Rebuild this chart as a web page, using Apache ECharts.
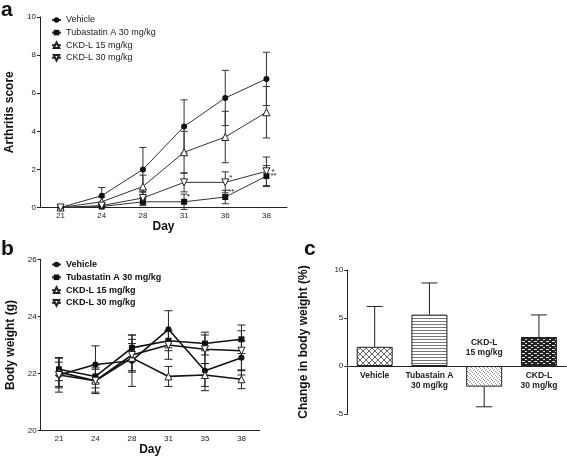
<!DOCTYPE html>
<html>
<head>
<meta charset="utf-8">
<script src="https://cdn.jsdelivr.net/npm/echarts@6/dist/echarts.min.js"></script>
<style>
html,body{margin:0;padding:0;background:#fff;}
#chart{width:567px;height:461px;}
</style>
</head>
<body>
<div id="chart"></div>
<script>
// ---------- DATA ----------
const seriesNames = ['Vehicle', 'Tubastatin A 30 mg/kg', 'CKD-L 15 mg/kg', 'CKD-L 30 mg/kg'];

// Panel a: arthritis score
const daysA = ['21', '24', '28', '31', '36', '38'];
const vehA = [0, 0.62, 2.0, 4.25, 5.75, 6.75];
const vehAsd = [0, 0.43, 1.15, 1.4, 1.45, 1.4];
const tubA = [0, 0.05, 0.3, 0.3, 0.55, 1.65];
const tubAsd = [0, 0.05, 0.2, 0.4, 0.35, 0.55];
const ckd15A = [0, 0.3, 1.1, 2.9, 3.7, 5.0];
const ckd15Asd = [0, 0.25, 0.6, 1.1, 1.35, 1.35];
const ckd30A = [0, 0.1, 0.5, 1.32, 1.32, 1.9];
const ckd30Asd = [0, 0.1, 0.3, 0.5, 0.55, 0.75];
const starsTubA = ['', '', '', '*', '**', '**'];
const starsCkd30A = ['', '', '', '', '*', '*'];
const ticksA = [0, 2, 4, 6, 8, 10];

// Panel b: body weight
const daysB = ['21', '24', '28', '31', '35', '38'];
const vehB = [21.95, 22.32, 22.45, 23.55, 22.1, 22.55];
const vehBsd = [0.6, 0.65, 0.9, 0.65, 0.7, 0.6];
const tubB = [22.15, 21.9, 22.9, 23.15, 23.05, 23.2];
const tubBsd = [0.4, 0.4, 0.45, 0.35, 0.4, 0.5];
const ckd15B = [22.05, 21.75, 22.55, 21.9, 21.95, 21.8];
const ckd15Bsd = [0.5, 0.4, 0.5, 0.35, 0.4, 0.33];
const ckd30B = [21.95, 21.75, 22.65, 23.0, 22.85, 22.8];
const ckd30Bsd = [0.45, 0.45, 0.55, 0.5, 0.5, 0.7];
const ticksB = [20, 22, 24, 26];

// Panel c: change in body weight
const groupsC = ['Vehicle', 'Tubastain A\n30 mg/kg', 'CKD-L\n15 mg/kg', 'CKD-L\n30 mg/kg'];
const changeC = [2.0, 5.35, -2.15, 3.02];
const changeCerr = [4.2, 3.3, 2.1, 2.3];
const ticksC = [-5, 0, 5, 10];

// ---------- STYLE HELPERS ----------
const FONT = "'Liberation Sans', Arial, sans-serif";
const INV_TRI = 'path://M0,0 L10,0 L5,9 Z';

function pattern(w, h, draw) {
  const c = document.createElement('canvas');
  c.width = w; c.height = h;
  const ctx = c.getContext('2d');
  ctx.fillStyle = '#fff';
  ctx.fillRect(0, 0, w, h);
  draw(ctx);
  return { image: c, repeat: 'repeat' };
}
const patCross = pattern(6, 6, ctx => {
  ctx.strokeStyle = '#666'; ctx.lineWidth = 1;
  ctx.beginPath();
  ctx.moveTo(0, 0); ctx.lineTo(6, 6);
  ctx.moveTo(6, 0); ctx.lineTo(0, 6);
  ctx.stroke();
});
const patHoriz = pattern(4, 3, ctx => {
  ctx.fillStyle = '#777';
  ctx.fillRect(0, 0, 4, 1);
});
const patDots = pattern(4, 4, ctx => {
  ctx.fillStyle = '#999';
  ctx.fillRect(0, 0, 1, 1);
  ctx.fillRect(2, 1, 1, 1);
  ctx.fillRect(1, 2, 1, 1);
  ctx.fillRect(3, 3, 1, 1);
});
const patDark = pattern(6, 4, ctx => {
  ctx.fillStyle = '#222';
  ctx.fillRect(0, 0, 6, 4);
  ctx.fillStyle = '#ddd';
  ctx.fillRect(0, 1, 3, 1);
  ctx.fillRect(3, 3, 2, 1);
});
const barPatterns = [patCross, patHoriz, patDots, patDark];

function errData(mean, sd) {
  return mean.map((m, i) => [i, m - sd[i], m + sd[i]]);
}
function errRender(capW, color, both) {
  return function (params, api) {
    const x = api.value(0);
    const a = api.coord([x, api.value(1)]);
    const b = api.coord([x, api.value(2)]);
    if (Math.abs(a[1] - b[1]) < 0.5) return { type: 'group', children: [] };
    const st = { stroke: color, lineWidth: 1 };
    const ch = [
      { type: 'line', shape: { x1: a[0], y1: a[1], x2: b[0], y2: b[1] }, style: st },
      { type: 'line', shape: { x1: b[0] - capW / 2, y1: b[1], x2: b[0] + capW / 2, y2: b[1] }, style: st }
    ];
    if (both) ch.push({ type: 'line', shape: { x1: a[0] - capW / 2, y1: a[1], x2: a[0] + capW / 2, y2: a[1] }, style: st });
    return { type: 'group', children: ch };
  };
}

const symA = [
  { symbol: 'circle', size: 6, item: { color: '#111' } },
  { symbol: 'rect', size: 6, item: { color: '#111' } },
  { symbol: 'triangle', size: 7, item: { color: '#fff', borderColor: '#222', borderWidth: 1 } },
  { symbol: INV_TRI, size: 7, item: { color: '#fff', borderColor: '#222', borderWidth: 1 } }
];

function lineSeries(name, data, idx, grid, lineColor, lw, stars) {
  const s = symA[idx];
  return {
    type: 'line', name: name, xAxisIndex: grid, yAxisIndex: grid,
    symbol: s.symbol, symbolSize: s.size, showAllSymbol: true,
    itemStyle: s.item,
    lineStyle: { color: lineColor, width: lw },
    z: 3,
    data: data.map((v, i) => {
      if (stars && stars[i]) {
        return {
          value: v,
          label: { show: true, formatter: stars[i], position: 'right', distance: 1,
                   offset: i < 5 ? [-1, -5] : [0, 0],
                   fontSize: 8, color: '#222', fontFamily: FONT }
        };
      }
      return v;
    })
  };
}
function errSeries(mean, sd, grid, capW, color) {
  return {
    type: 'custom', xAxisIndex: grid, yAxisIndex: grid, z: 2,
    renderItem: errRender(capW, color, true),
    data: errData(mean, sd), silent: true
  };
}

const axisLineStyle = { lineStyle: { color: '#222', width: 1 } };
const tickLabel = { fontSize: 8, color: '#222', fontFamily: FONT };
const nameStyle = { fontSize: 12, fontWeight: 'bold', fontFamily: FONT, color: '#111' };
const titleStyle = { fontSize: 21, fontWeight: 'bold', fontFamily: FONT, color: '#111' };

const option = {
  animation: false,
  backgroundColor: '#fff',
  title: [
    { text: 'a', left: 1, top: 0, padding: 0, textStyle: titleStyle },
    { text: 'b', left: 1, top: 239, padding: 0, textStyle: titleStyle },
    { text: 'c', left: 304, top: 239, padding: 0, textStyle: titleStyle }
  ],
  legend: [
    { orient: 'vertical', left: 51, top: 14, padding: 0, itemWidth: 9, itemHeight: 7, itemGap: 0.6,
      data: seriesNames,
      textStyle: { fontSize: 9, lineHeight: 12, color: '#222', fontFamily: FONT, padding: [0, 0, 0, 0] } },
    { orient: 'vertical', left: 51, top: 258.5, padding: 0, itemWidth: 9, itemHeight: 7, itemGap: 0.8,
      data: seriesNames,
      textStyle: { fontSize: 9, lineHeight: 12, fontWeight: 'bold', color: '#111', fontFamily: FONT, padding: [0, 0, 0, 0] } }
  ],
  grid: [
    { left: 40, top: 17, width: 247, height: 190.5 },
    { left: 40.7, top: 259.3, width: 219, height: 171.4 },
    { left: 347.3, top: 270, width: 219, height: 144 }
  ],
  xAxis: [
    { type: 'category', gridIndex: 0, data: daysA, boundaryGap: true,
      axisLine: axisLineStyle, axisTick: { alignWithLabel: true, length: 3, lineStyle: { color: '#222' } },
      axisLabel: Object.assign({ margin: 4 }, tickLabel),
      name: 'Day', nameLocation: 'middle', nameGap: 13, nameTextStyle: nameStyle },
    { type: 'category', gridIndex: 1, data: daysB, boundaryGap: true,
      axisLine: axisLineStyle, axisTick: { alignWithLabel: true, length: 3, lineStyle: { color: '#222' } },
      axisLabel: Object.assign({ margin: 4 }, tickLabel),
      name: 'Day', nameLocation: 'middle', nameGap: 13, nameTextStyle: nameStyle },
    { type: 'category', gridIndex: 2, data: groupsC, boundaryGap: true,
      axisLine: { onZero: true, lineStyle: { color: '#222', width: 1 } }, axisTick: { show: false },
      axisLabel: { show: false } }
  ],
  yAxis: [
    { type: 'value', gridIndex: 0, min: ticksA[0], max: ticksA[ticksA.length - 1], interval: ticksA[1] - ticksA[0],
      splitLine: { show: false }, axisLine: Object.assign({ show: true }, axisLineStyle),
      axisTick: { show: true, length: 3, lineStyle: { color: '#222' } },
      axisLabel: Object.assign({ margin: 4 }, tickLabel),
      name: 'Arthritis score', nameLocation: 'middle', nameGap: 24, nameTextStyle: nameStyle },
    { type: 'value', gridIndex: 1, min: ticksB[0], max: ticksB[ticksB.length - 1], interval: ticksB[1] - ticksB[0],
      splitLine: { show: false }, axisLine: Object.assign({ show: true }, axisLineStyle),
      axisTick: { show: true, length: 3, lineStyle: { color: '#222' } },
      axisLabel: Object.assign({ margin: 4 }, tickLabel),
      name: 'Body weight (g)', nameLocation: 'middle', nameGap: 24, nameTextStyle: nameStyle },
    { type: 'value', gridIndex: 2, min: ticksC[0], max: ticksC[ticksC.length - 1], interval: ticksC[1] - ticksC[0],
      splitLine: { show: false }, axisLine: Object.assign({ show: true, onZero: false }, axisLineStyle),
      axisTick: { show: true, length: 3, lineStyle: { color: '#222' } },
      axisLabel: Object.assign({ margin: 4 }, tickLabel),
      name: 'Change in body weight (%)', nameLocation: 'middle', nameGap: 38, nameTextStyle: nameStyle }
  ],
  series: [
    // panel a
    errSeries(vehA, vehAsd, 0, 7, '#333'),
    errSeries(tubA, tubAsd, 0, 7, '#333'),
    errSeries(ckd15A, ckd15Asd, 0, 7, '#333'),
    errSeries(ckd30A, ckd30Asd, 0, 7, '#333'),
    lineSeries(seriesNames[0], vehA, 0, 0, '#333', 1),
    lineSeries(seriesNames[1], tubA, 1, 0, '#333', 1, starsTubA),
    lineSeries(seriesNames[2], ckd15A, 2, 0, '#333', 1),
    lineSeries(seriesNames[3], ckd30A, 3, 0, '#333', 1, starsCkd30A),
    // panel b
    errSeries(vehB, vehBsd, 1, 8, '#222'),
    errSeries(tubB, tubBsd, 1, 8, '#222'),
    errSeries(ckd15B, ckd15Bsd, 1, 8, '#222'),
    errSeries(ckd30B, ckd30Bsd, 1, 8, '#222'),
    lineSeries(seriesNames[0], vehB, 0, 1, '#111', 1.6),
    lineSeries(seriesNames[1], tubB, 1, 1, '#111', 1.6),
    lineSeries(seriesNames[2], ckd15B, 2, 1, '#111', 1.6),
    lineSeries(seriesNames[3], ckd30B, 3, 1, '#111', 1.6),
    // panel c
    {
      type: 'bar', name: 'change', xAxisIndex: 2, yAxisIndex: 2, barWidth: 36, z: 2,
      data: changeC.map((v, i) => ({ value: v, itemStyle: { color: barPatterns[i], borderColor: '#222', borderWidth: 1 } }))
    },
    {
      type: 'bar', name: 'labels', xAxisIndex: 2, yAxisIndex: 2, barWidth: 36, barGap: '-100%', z: 1, silent: true,
      itemStyle: { color: 'rgba(0,0,0,0)' },
      data: changeC.map(v => ({ value: 0, label: { position: v < 0 ? 'top' : 'bottom', distance: v < 0 ? 8 : 5 } })),
      label: { show: true, fontSize: 8.5, lineHeight: 10, fontWeight: 'bold', color: '#222', fontFamily: FONT,
               formatter: p => groupsC[p.dataIndex] }
    },
    {
      type: 'custom', xAxisIndex: 2, yAxisIndex: 2, z: 3, silent: true,
      renderItem: errRender(16, '#222', false),
      data: changeC.map((v, i) => [i, v, v + (v < 0 ? -1 : 1) * changeCerr[i]])
    }
  ]
};

const chart = echarts.init(document.getElementById('chart'), null, { renderer: 'canvas' });
chart.setOption(option);
</script>
</body>
</html>
